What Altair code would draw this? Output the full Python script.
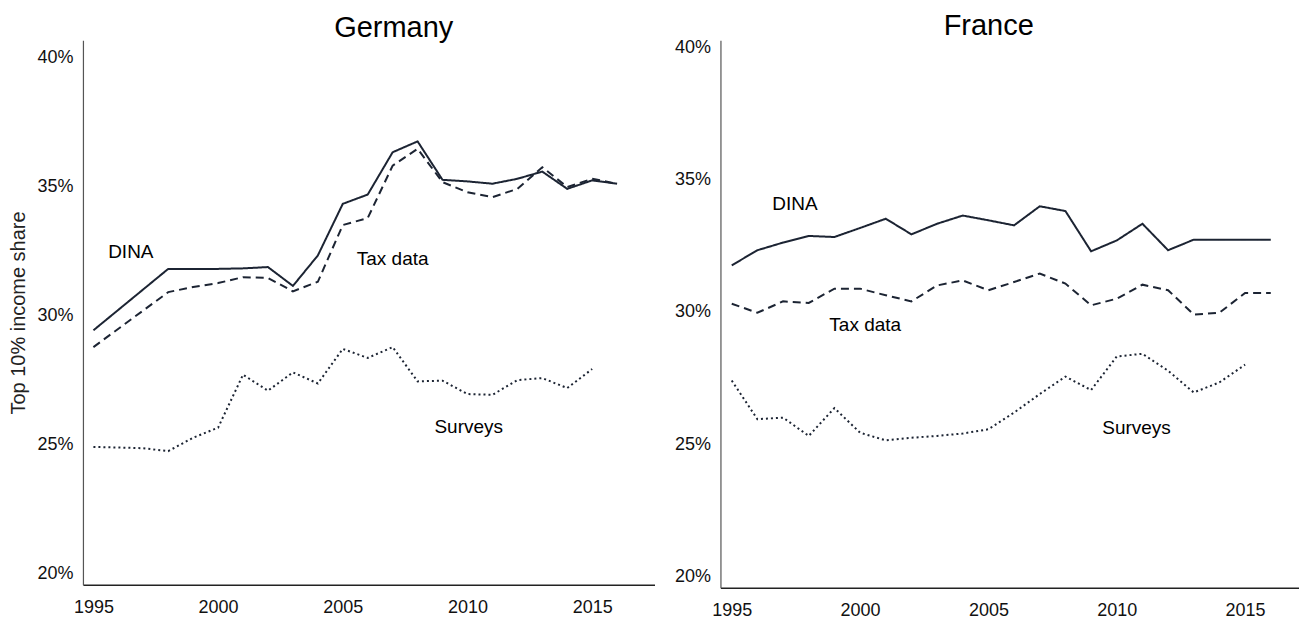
import altair as alt
import pandas as pd

# ---------------- data ----------------
series_names = ["DINA", "Tax data", "Surveys"]

# Germany
de_years_main = [1995, 1998, 1999, 2000, 2001, 2002, 2003, 2004, 2005, 2006,
                 2007, 2008, 2009, 2010, 2011, 2012, 2013, 2014, 2015, 2016]
de_dina = [29.42, 31.80, 31.80, 31.80, 31.82, 31.87, 31.14, 32.32, 34.32, 34.68,
           36.32, 36.74, 35.25, 35.19, 35.10, 35.29, 35.57, 34.90, 35.23, 35.10]
de_tax = [28.77, 30.90, 31.10, 31.25, 31.48, 31.45, 30.93, 31.30, 33.50, 33.77,
          35.80, 36.45, 35.16, 34.77, 34.58, 34.90, 35.74, 34.97, 35.29, 35.10]
de_years_surv = list(range(1995, 2016))
de_surveys = [24.90, 24.88, 24.85, 24.74, 25.26, 25.65, 27.70, 27.08, 27.79, 27.36,
              28.70, 28.35, 28.77, 27.44, 27.47, 26.95, 26.92, 27.49, 27.57, 27.18, 27.92]

# France
fr_years_main = list(range(1995, 2017))
fr_dina = [31.76, 32.33, 32.62, 32.87, 32.83, 33.17, 33.52, 32.93, 33.33, 33.64, 33.46,
           33.27, 33.99, 33.81, 32.29, 32.70, 33.33, 32.33, 32.73, 32.73, 32.73, 32.73]
fr_tax = [30.31, 29.97, 30.40, 30.34, 30.88, 30.88, 30.63, 30.40, 31.00, 31.19, 30.82,
          31.13, 31.45, 31.07, 30.25, 30.50, 31.03, 30.82, 29.90, 29.97, 30.72, 30.72]
fr_years_surv = list(range(1995, 2016))
fr_surveys = [27.41, 25.95, 26.01, 25.32, 26.37, 25.44, 25.15, 25.25, 25.32, 25.41, 25.57,
              26.20, 26.90, 27.56, 27.05, 28.32, 28.42, 27.78, 26.96, 27.34, 28.01]

# in-chart series labels (data coordinates)
de_label_year = [1996.5, 2007.0, 2010.05]
de_label_value = [32.45, 32.2, 25.67]
fr_label_year = [1997.46, 2000.2, 2010.77]
fr_label_value = [34.09, 29.49, 25.61]

x_ticks = [1995, 2000, 2005, 2010, 2015]
y_ticks = [20, 25, 30, 35, 40]

FONT = "Liberation Sans"
LINE_COLOR = "#1c2433"


def long_df(years_main, dina, tax, years_surv, surveys):
    rows = []
    for y, v in zip(years_main, dina):
        rows.append({"year": y, "value": v, "series": "DINA"})
    for y, v in zip(years_main, tax):
        rows.append({"year": y, "value": v, "series": "Tax data"})
    for y, v in zip(years_surv, surveys):
        rows.append({"year": y, "value": v, "series": "Surveys"})
    return pd.DataFrame(rows)


def panel(title, df, lab_x, lab_y, xdom, ydom, w, h, title_dx, title_offset, show_ytitle):
    x = alt.X("year:Q",
              scale=alt.Scale(domain=xdom, nice=False, zero=False),
              axis=alt.Axis(values=x_ticks, format="d", title=None, ticks=False,
                            grid=False, labelPadding=14, domainColor="#222",
                            domainWidth=1.5, labelFontSize=18, labelFont=FONT,
                            labelColor="#111"))
    yaxis_kwargs = dict(values=y_ticks, labelExpr="datum.value + '%'", ticks=False,
                        grid=False, labelPadding=10, domainColor="#555",
                        domainWidth=1.2, labelFontSize=18, labelFont=FONT,
                        labelColor="#111")
    if show_ytitle:
        yaxis_kwargs.update(title="Top 10% income share", titleFontSize=20,
                            titleFont=FONT, titleFontWeight="normal",
                            titleColor="#222", titlePadding=8)
    else:
        yaxis_kwargs.update(title=None)
    y = alt.Y("value:Q", scale=alt.Scale(domain=ydom, nice=False, zero=False),
              axis=alt.Axis(**yaxis_kwargs))

    lines = alt.Chart(df).mark_line(color=LINE_COLOR, strokeWidth=2).encode(
        x=x, y=y,
        strokeDash=alt.StrokeDash("series:N",
                                  scale=alt.Scale(domain=series_names,
                                                  range=[[1, 0], [8, 5], [2, 3]]),
                                  legend=None),
        detail="series:N",
    )
    lab_df = pd.DataFrame({"year": lab_x, "value": lab_y, "text": series_names})
    labels = alt.Chart(lab_df).mark_text(font=FONT, fontSize=19, color="#000",
                                         align="center", baseline="middle").encode(
        x=alt.X("year:Q"), y=alt.Y("value:Q"), text="text:N")

    return alt.layer(lines, labels).properties(
        width=w, height=h,
        title=alt.TitleParams(title, font=FONT, fontSize=29, fontWeight="normal",
                              color="#000", anchor="middle", dx=title_dx,
                              offset=title_offset, baseline="alphabetic"))


de_df = long_df(de_years_main, de_dina, de_tax, de_years_surv, de_surveys)
fr_df = long_df(fr_years_main, fr_dina, fr_tax, fr_years_surv, fr_surveys)

germany = panel("Germany", de_df, de_label_year, de_label_value,
                [1994.58, 2017.5], [19.56, 40.66], 572, 545, 25, -26, True)
france = panel("France", fr_df, fr_label_year, fr_label_value,
               [1994.56, 2017.1], [19.585, 40.26], 579, 548, -21, -26, False)

chart = alt.hconcat(germany, france, spacing=19).properties(
    padding={"left": 0, "top": 3, "right": 0, "bottom": 0},
    background="white"
).configure_view(stroke=None)

chart.save("out.html", embed_options={"renderer": "svg", "actions": False})
